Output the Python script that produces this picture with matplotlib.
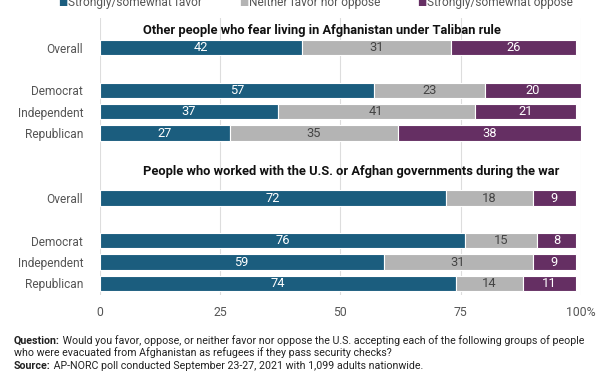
import matplotlib
matplotlib.use("Agg")
import matplotlib.pyplot as plt

plt.rcParams['font.family'] = ['Roboto', 'DejaVu Sans']

# data
groups = ["Overall", "Democrat", "Independent", "Republican"]
titles = ["Other people who fear living in Afghanistan under Taliban rule",
          "People who worked with the U.S. or Afghan governments during the war"]
favor = [[42, 57, 37, 27], [72, 76, 59, 74]]
neither = [[31, 23, 41, 35], [18, 15, 31, 14]]
oppose = [[26, 20, 21, 38], [9, 8, 9, 11]]
legend_labels = ["Strongly/somewhat favor", "Neither favor nor oppose", "Strongly/somewhat oppose"]
colors = ["#1b5d7e", "#b4b4b4", "#652f63"]
text_colors = ["white", "#444444", "white"]

# row layout (in row units from the top of the axes)
row_pos = [[1.4, 3.4, 4.4, 5.4], [8.45, 10.45, 11.45, 12.45]]
title_pos = [0.6, 7.2]

fig = plt.figure(figsize=(6.12, 3.74), dpi=100)
ax = fig.add_axes([0.163, 0.211, 0.786, 0.741])

yt, yl = [], []
for s in range(2):
    for i, g in enumerate(groups):
        y = row_pos[s][i]
        left = 0
        for k, vals in enumerate([favor, neither, oppose]):
            v = vals[s][i]
            ax.barh(y, v, left=left, height=0.72, color=colors[k],
                    edgecolor="white", linewidth=0.8, zorder=3)
            ax.text(left + v / 2, y, str(v), ha="center", va="center",
                    color=text_colors[k], fontsize=9.3, zorder=4)
            left += v
        yt.append(y)
        yl.append(g)
    ax.text(9, title_pos[s], titles[s], ha="left", va="center",
            fontsize=9.3, fontweight="bold", color="#111111", zorder=4)

ax.set_ylim(13.0, 0)
ax.set_xlim(0, 100)
ax.set_yticks(yt)
ax.set_yticklabels(yl, fontsize=8.6, color="#555555")
ax.set_xticks([0, 25, 50, 75, 100])
ax.set_xticklabels(["0", "25", "50", "75", "100%"], fontsize=8.8, color="#555555")
ax.tick_params(length=0, pad=12)
ax.tick_params(axis="x", pad=8)
ax.grid(axis="x", color="#dddddd", linewidth=0.8, zorder=0)
for sp in ax.spines.values():
    sp.set_visible(False)

# legend at the very top (partly cut off)
mark_x = [58, 239, 417]
text_x = [68, 249, 427]
for k in range(3):
    fig.text(mark_x[k] / 612, 0.994, "\u25A0", color=colors[k], fontsize=7, ha="left", va="center")
    fig.text(text_x[k] / 612, 0.994, legend_labels[k], color="#555555",
             fontsize=8.6, ha="left", va="center")

# footnote
renderer = fig.canvas.get_renderer()
foot = [("Question:", " Would you favor, oppose, or neither favor nor oppose the U.S. accepting each of the following groups of people", 0.081),
        ("", "who were evacuated from Afghanistan as refugees if they pass security checks?", 0.047),
        ("Source:", " AP-NORC poll conducted September 23-27, 2021 with 1,099 adults nationwide.", 0.014)]
for b, t, yy in foot:
    x0 = 0.023
    if b:
        tb = fig.text(x0, yy, b, fontsize=7.7, fontweight="bold", color="#222222", va="baseline")
        bb = tb.get_window_extent(renderer)
        x0 = bb.x1 / fig.bbox.width
    fig.text(x0, yy, t, fontsize=7.7, color="#222222", va="baseline")

fig.savefig("out.png", dpi=100)
